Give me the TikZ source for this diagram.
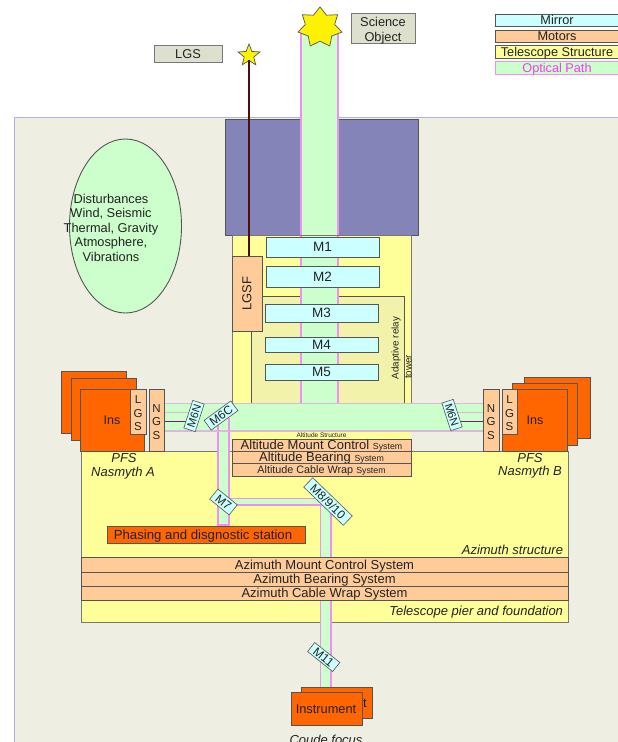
\documentclass[tikz,border=0pt]{standalone}
\usepackage{fontspec}
\setmainfont{Liberation Sans}
\usetikzlibrary{shapes.geometric}
\definecolor{panel}{HTML}{EEEEE3}
\definecolor{panelline}{HTML}{B0B0F0}
\definecolor{navy}{HTML}{8484B8}
\definecolor{struct}{HTML}{FFFF99}
\definecolor{relay}{HTML}{F2F2AA}
\definecolor{mirror}{HTML}{CCFFFF}
\definecolor{motor}{HTML}{FFCC99}
\definecolor{optic}{HTML}{CCFFCC}
\definecolor{mag}{HTML}{F090F0}
\definecolor{magtext}{HTML}{FF33FF}
\definecolor{magpale}{HTML}{DDB8DD}
\definecolor{ink}{HTML}{555555}
\definecolor{inst}{HTML}{FF6600}
\definecolor{inktxt}{HTML}{222222}
\definecolor{tag}{HTML}{DDE0CC}
\definecolor{laser}{HTML}{4A1010}
\newcommand{\fs}[1]{\fontsize{#1}{#1}\selectfont}
\newcommand{\lw}[1]{\smash{\raisebox{-0.36em}{#1}}}
\newcommand{\tp}{\rule{0pt}{11.5pt}}
\newcommand{\bx}[7][]{\node[#6,anchor=center,minimum width={#4-#2},minimum height={#5-#3},#1] at ({(#2+#4)/2},{(#3+#5)/2}) {#7};}
\tikzset{
  every node/.style={inner sep=0pt,outer sep=0pt,text=inktxt,align=center},
  mirrorbox/.style={draw=ink,line width=0.9pt,fill=mirror,font=\fs{13.5}},
  motorbox/.style={draw=ink,line width=0.9pt,fill=motor,font=\fs{13}},
  structbox/.style={draw=ink,line width=0.9pt,fill=struct},
  optband/.style={draw=mag,line width=1.4pt,fill=optic},
  instbox/.style={draw=ink,line width=0.9pt,fill=inst},
  tagbox/.style={draw=ink!80,line width=0.9pt,fill=tag,font=\fs{12.8}},
  mtag/.style={draw=ink,line width=0.6pt,fill=mirror,font=\fs{11}},
  ital/.style={font=\fs{13}\itshape},
  legtext/.style={font=\fs{12.7}},
}
\begin{document}
\begin{tikzpicture}[x=1pt,y=-1pt]
\useasboundingbox (0,0) rectangle (618,742);
\clip (0,0) rectangle (618,742);
\fill[white] (0,0) rectangle (618,742);
% panel
\fill[panel] (14,117.5) rectangle (620,744);
\draw[panelline,line width=1pt] (14,744) -- (14,117.5) -- (620,117.5);
% main vertical optical path above the tower
\bx{301}{30}{338}{240}{optband}{}
% primary enclosure
\bx[name=dome]{225}{119}{418}{235}{draw=ink,line width=0.9pt,fill=navy}{}
\fill[optic] (301,118) rectangle (338,236);
\draw[mag,line width=1.4pt] (301,30) -- (301,236) (338,30) -- (338,236);
% tower
\bx[name=tower]{232}{235}{411}{404}{draw=ink!80,line width=0.9pt,fill=struct}{}
\bx[name=relaytower]{251}{296}{404}{404}{draw=ink,line width=0.8pt,fill=relay}{}
\fill[optic] (301,236) rectangle (338,404);
\draw[mag,line width=1.4pt] (301,236) -- (301,404) (338,236) -- (338,404);
\bx[name=M1]{266}{237}{379}{257}{mirrorbox}{\lw{M1}}
\bx[name=M2]{266}{266}{379}{287}{mirrorbox}{\lw{M2}}
\bx[name=M3]{265}{304}{378}{322}{mirrorbox}{\lw{M3}}
\bx[name=M4]{265}{337}{378}{352}{mirrorbox}{\lw{M4}}
\bx[name=M5]{265}{364}{378}{380}{mirrorbox}{\lw{M5}}
\bx[name=LGSF]{232}{256}{262}{331}{motorbox}{\rotatebox{90}{\fs{13}LGSF}}
\node[rotate=90,font=\fs{9.8}] (lbladapt) at (396,348) {Adaptive relay};
\node[rotate=90,font=\fs{9.8}] (lbltower) at (408.5,367) {tower};
% azimuth structure
\bx[name=az]{81}{451}{568}{622}{draw=ink!80,line width=0.9pt,fill=struct}{}
% altitude structure
\bx[name=altband]{232}{431}{411}{439}{structbox,draw=none,font=\fs{6.5}}{\lw{Altitude Structure}}
\bx[name=altA]{232}{439}{411}{451}{motorbox}{\lw{Altitude Mount Control {\fs{8.8}System}}}
\bx[name=altB]{232}{451}{411}{463}{motorbox}{\lw{Altitude Bearing {\fs{8.8}System}}}
\bx[name=altC]{232}{463}{411}{476}{motorbox,font=\fs{10.8}}{\lw{Altitude Cable Wrap {\fs{8.8}System}}}
% coude path
\bx{320.5}{503}{331}{690}{optband}{}
\bx{228}{498.5}{322}{505}{optband}{}
\bx{218}{418}{229}{525}{optband}{}
\fill[optic] (229,499.3) rectangle (232,504.3);
% nasmyth band
\fill[optic] (165,403.5) rectangle (483,431);
\draw[magpale,line width=1.6pt] (165,403.5) -- (483,403.5) (165,431) -- (483,431);
\draw[magpale,line width=1pt] (165,412) -- (192,412) (455,412) -- (483,412);
\draw[violet!70!ink,line width=1pt] (165,421) -- (192,421) (455,421) -- (483,421);
\draw[mag,line width=1.4pt] (218,418) -- (218,431) (229,418) -- (229,431);
% instruments left
\bx[name=insL1]{61}{371}{126}{433}{instbox}{}
\bx[name=insL2]{71}{378}{136}{440}{instbox}{}
\bx[name=insL3]{80}{389}{144}{451}{instbox,font=\fs{12.5}}{\lw{Ins}}
\bx[name=lgsL]{130}{389}{146}{434}{motorbox,font=\fs{11.5}}{\tp L\\[2pt]G\\[2pt]S}
\bx[name=ngsL]{149}{389}{164}{451}{motorbox,font=\fs{11.5}}{\tp N\\[2pt]G\\[2pt]S}
% instruments right
\bx[name=insR1]{524}{377}{590}{438}{instbox}{}
\bx[name=insR2]{512}{383}{577}{445}{instbox}{}
\bx[name=insR3]{502}{389}{567}{451}{instbox,font=\fs{12.5}}{\lw{\hspace*{1pt}Ins}}
\bx[name=lgsR]{502}{389}{517}{434}{motorbox,font=\fs{11.5}}{\tp L\\[2pt]G\\[2pt]S}
\bx[name=ngsR]{483}{389}{499}{451}{motorbox,font=\fs{11.5}}{\tp N\\[2pt]G\\[2pt]S}
\node[ital] (pfsA) at (124,458) {PFS};
\node[ital] (nasA) at (123,473) {Nasmyth A};
\node[ital] (pfsB) at (530,458) {PFS};
\node[ital] (nasB) at (530,472) {Nasmyth B};
% phasing
\bx[name=phasing]{107}{526}{305}{543}{instbox,font=\fs{13.2}}{\lw{\hspace*{-6pt}Phasing and disgnostic station}}
\node[ital,anchor=east] (azlbl) at (563,550) {Azimuth structure};
\bx[name=azA]{81}{557.5}{568}{572}{motorbox}{\lw{Azimuth Mount Control System}}
\bx[name=azB]{81}{572}{568}{586}{motorbox}{\lw{Azimuth Bearing System}}
\bx[name=azC]{81}{586}{568}{600}{motorbox}{\lw{Azimuth Cable Wrap System}}
\node[ital,anchor=east] (pierlbl) at (563,612) {Telescope pier and foundation};
% tilted mirrors
\node[mtag,minimum width=29pt,minimum height=12pt,rotate=72] (M6NL) at (194,416) {\lw{M6N}};
\node[mtag,minimum width=33pt,minimum height=12pt,rotate=36,font=\fs{12}] (M6C) at (221,415.5) {\lw{M6C}};
\node[mtag,minimum width=29pt,minimum height=12pt,rotate=-72] (M6NR) at (452,415) {\lw{M6N}};
\node[mtag,minimum width=25pt,minimum height=13pt,rotate=-39,font=\fs{12}] (M7) at (223.5,502) {\lw{M7}};
\node[mtag,minimum width=55pt,minimum height=13pt,rotate=-44,font=\fs{12}] (M8) at (328,501.5) {\lw{M8/9/10}};
\node[mtag,minimum width=32pt,minimum height=11.5pt,rotate=-38.5,font=\fs{12}] (M11) at (323.7,657) {\lw{M11}};
% coude instruments
\bx[name=instB]{301}{687}{372}{718}{instbox,font=\fs{12.8}}{\lw{Instrument}}
\bx[name=instF]{291}{692}{362}{725}{instbox,font=\fs{12.8}}{\lw{\hspace*{-1pt}Instrument}}
\node[font=\fs{13}\itshape] (coude) at (326,739.5) {Coude focus};
% stars and laser
\node[star,star points=7,star point ratio=1.5,draw=ink,line width=0.7pt,fill=yellow,minimum size=41pt,transform shape,xscale=1.1] (bigstar) at (320,27.5) {};
\node[star,star points=5,star point ratio=2.3,draw=ink,line width=0.7pt,fill=yellow,minimum size=23pt] (lgsstar) at (249,55.5) {};
\draw[laser,line width=2.8pt] (lgsstar.center |- 0,60) -- (lgsstar.center |- LGSF.north);
% labels
\bx[name=lgsTag]{154}{45}{222}{62}{tagbox}{\lw{LGS}}
\bx[name=sciTag]{351}{13}{415}{43}{tagbox}{}
\node[font=\fs{12.8}] (scitext) at (383,31) {Science\\[2.2pt]Object};
% ellipse
\node[ellipse,draw=ink,line width=0.9pt,fill=optic,minimum width=112pt,minimum height=174pt] (dist) at (125.5,226) {};
\node[font=\fs{12.8}] (disttext) at (111,227.5) {Disturbances\\[1.7pt]Wind, Seismic\\[1.7pt]Thermal, Gravity\\[1.7pt]Atmosphere,\\[1.7pt]Vibrations};
% legend
\bx[name=legA]{495}{14}{624}{26}{mirrorbox,legtext}{\lw{\hspace*{-5pt}Mirror}}
\bx[name=legB]{495}{30}{624}{42}{motorbox,legtext}{\lw{\hspace*{-5pt}Motors}}
\bx[name=legC]{495}{45}{624}{58}{structbox,legtext}{\lw{\hspace*{-5pt}Telescope Structure}}
\bx[name=legD]{495}{61}{624}{74}{draw=mag,line width=1pt,fill=optic,legtext,text=magtext}{\lw{\hspace*{-5pt}Optical Path}}
\end{tikzpicture}
\end{document}
